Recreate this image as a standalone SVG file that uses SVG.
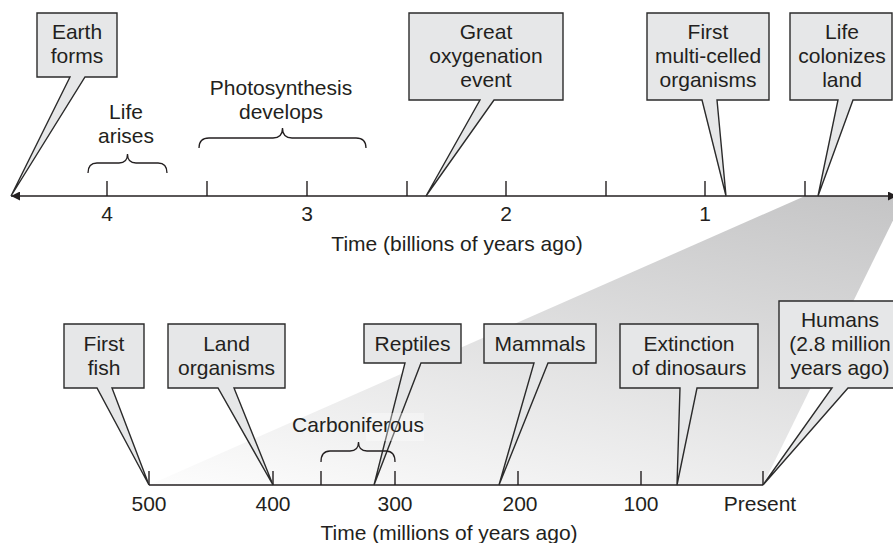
<svg xmlns="http://www.w3.org/2000/svg" width="893" height="543" viewBox="0 0 893 543">
<style>
  text { font-family: "Liberation Sans", Arial, Helvetica, sans-serif; font-size: 21px; fill: #231f20; text-anchor: middle; }
  .callout { fill: #e6e7e8; stroke: #2b2b2b; stroke-width: 1.4; stroke-linejoin: miter; }
  .axis { stroke: #231f20; stroke-width: 1.5; fill: none; }
  .tick { stroke: #231f20; stroke-width: 1.4; }
  .brace { fill: none; stroke: #231f20; stroke-width: 1.3; }
</style>
<defs>
  <linearGradient id="zoomGrad" gradientUnits="userSpaceOnUse" x1="825" y1="178" x2="733" y2="622">
    <stop offset="0" stop-color="#c4c4c5"/>
    <stop offset="1" stop-color="#ffffff"/>
  </linearGradient>
  <marker id="arrow" viewBox="0 0 10 10" refX="10" refY="5" markerWidth="17" markerHeight="9" markerUnits="userSpaceOnUse" orient="auto-start-reverse">
    <path d="M0,0 L10,5 L0,10 Z" fill="#231f20"/>
  </marker>
</defs>
<rect width="893" height="543" fill="#ffffff"/>

<!-- zoom wedge -->
<polygon id="zoom-wedge" points="805,196 905,196 763,485 149,485" fill="url(#zoomGrad)"/>

<g id="connectors">
  <!-- top axis -->
  <line class="axis" x1="11" y1="196" x2="897" y2="196" marker-start="url(#arrow)" marker-end="url(#arrow)"/>
  <g class="tick">
    <line x1="107" y1="181" x2="107" y2="196"/>
    <line x1="207" y1="181" x2="207" y2="196"/>
    <line x1="307" y1="181" x2="307" y2="196"/>
    <line x1="407" y1="181" x2="407" y2="196"/>
    <line x1="506" y1="181" x2="506" y2="196"/>
    <line x1="606" y1="181" x2="606" y2="196"/>
    <line x1="705" y1="181" x2="705" y2="196"/>
    <line x1="805" y1="181" x2="805" y2="196"/>
  </g>
  <!-- bottom axis -->
  <line class="axis" x1="149" y1="485" x2="763" y2="485"/>
  <g class="tick">
    <line x1="149" y1="471" x2="149" y2="485"/>
    <line x1="273" y1="471" x2="273" y2="485"/>
    <line x1="321" y1="471" x2="321" y2="485"/>
    <line x1="395" y1="471" x2="395" y2="485"/>
    <line x1="518" y1="471" x2="518" y2="485"/>
    <line x1="641" y1="471" x2="641" y2="485"/>
    <line x1="763" y1="471" x2="763" y2="485"/>
  </g>
</g>

<g id="axis-labels">
  <text x="107" y="221">4</text>
  <text x="307" y="221">3</text>
  <text x="506" y="221">2</text>
  <text x="705" y="221">1</text>
  <text x="457" y="251">Time (billions of years ago)</text>
  <text x="149" y="511">500</text>
  <text x="273" y="511">400</text>
  <text x="395" y="511">300</text>
  <text x="520" y="511">200</text>
  <text x="641" y="511">100</text>
  <text x="760" y="511">Present</text>
  <text x="449" y="540">Time (millions of years ago)</text>
</g>

<!-- top callouts -->
<g id="earth-forms">
  <path class="callout" d="M37,13 H117 V77 H85 L11,196 L70,77 H37 Z"/>
  <text x="77" y="39">Earth</text>
  <text x="77" y="63">forms</text>
</g>
<g id="life-arises">
  <text x="126" y="119">Life</text>
  <text x="126" y="143">arises</text>
  <path class="brace" d="M88,173 Q88,163 97,163 H119 Q127.5,163 127.5,154 Q127.5,163 136,163 H158 Q167,163 167,173"/>
</g>
<g id="photosynthesis">
  <text x="281" y="95">Photosynthesis</text>
  <text x="281" y="119">develops</text>
  <path class="brace" d="M199,148 Q199,138 209,138 H273 Q282.5,138 282.5,128 Q282.5,138 292,138 H356 Q366,138 366,148"/>
</g>
<g id="great-oxygenation">
  <path class="callout" d="M409,13 H563 V100 H494 L426,196 L480,100 H409 Z"/>
  <text x="486" y="39">Great</text>
  <text x="486" y="63">oxygenation</text>
  <text x="486" y="87">event</text>
</g>
<g id="multi-celled">
  <path class="callout" d="M647,13 H769 V100 H717 L726,196 L702,100 H647 Z"/>
  <text x="708" y="39">First</text>
  <text x="708" y="63">multi-celled</text>
  <text x="708" y="87">organisms</text>
</g>
<g id="life-colonizes">
  <path class="callout" d="M790,13 H892 V100 H853 L818,196 L838,100 H790 Z"/>
  <text x="842" y="39">Life</text>
  <text x="842" y="63">colonizes</text>
  <text x="842" y="87">land</text>
</g>

<!-- bottom callouts -->
<g id="first-fish">
  <path class="callout" d="M64,324 H144 V388 H112 L149,485 L97,388 H64 Z"/>
  <text x="104" y="351">First</text>
  <text x="104" y="375">fish</text>
</g>
<g id="land-organisms">
  <path class="callout" d="M168,324 H285 V388 H234 L273,485 L218,388 H168 Z"/>
  <text x="226.5" y="351">Land</text>
  <text x="226.5" y="375">organisms</text>
</g>
<g id="reptiles">
  <path class="callout" d="M364,324 H461 V363 H421 L374,485 L405,363 H364 Z"/>
  <text x="412.5" y="351">Reptiles</text>
</g>
<g id="carboniferous">
  <rect x="366" y="413" width="58" height="28" fill="#ffffff" fill-opacity="0.35"/>
  <text x="358" y="432">Carboniferous</text>
  <path class="brace" d="M321,462 Q321,451 330,451 H350 Q358.5,451 358.5,442 Q358.5,451 367,451 H386 Q395,451 395,462"/>
</g>
<g id="mammals">
  <path class="callout" d="M484,324 H596 V363 H548 L499,485 L534,363 H484 Z"/>
  <text x="540" y="351">Mammals</text>
</g>
<g id="extinction">
  <path class="callout" d="M620,324 H758 V388 H697 L677,485 L680,388 H620 Z"/>
  <text x="689" y="351">Extinction</text>
  <text x="689" y="375">of dinosaurs</text>
</g>
<g id="humans">
  <path class="callout" d="M779,301 H900 V388 H848 L763,485 L832,388 H779 Z"/>
  <text x="840" y="327">Humans</text>
  <text x="840" y="351">(2.8 million</text>
  <text x="840" y="375">years ago)</text>
</g>
</svg>
